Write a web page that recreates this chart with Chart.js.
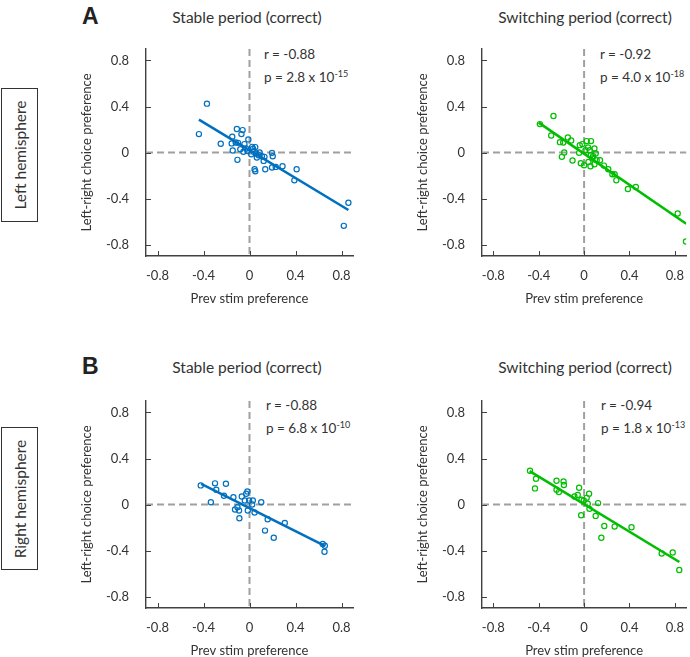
<!DOCTYPE html>
<html>
<head>
<meta charset="utf-8">
<script src="https://cdn.jsdelivr.net/npm/chart.js@4/dist/chart.umd.min.js"></script>
<style>
  html, body { margin:0; padding:0; background:#fff; overflow:hidden; }
  body { width:690px; height:657px; position:relative; font-family:Lato, "Open Sans", sans-serif; color:#333; }
  canvas { position:absolute; }
  .lbl { position:absolute; white-space:nowrap; }
  .big { font-family:"Liberation Sans", Arial, sans-serif; font-weight:bold; font-size:23px; color:#222; }
  .ttl { font-size:15.5px; transform:translateX(-50%); }
  .stat { font-size:13.5px; line-height:19px; }
  .stat span { font-size:9px; vertical-align:5px; }
  .hemi { position:absolute; border:1px solid #333; box-sizing:border-box; }
  .hemi div { position:absolute; left:50%; top:50%; font-size:15.5px; white-space:nowrap; transform:translate(-50%,-50%) rotate(-90deg); }
</style>
</head>
<body>
<div class="lbl big" style="left:82px;top:3px">A</div>
<div class="lbl big" style="left:82px;top:353px">B</div>
<div class="lbl ttl" style="left:247px;top:8px">Stable period (correct)</div>
<div class="lbl ttl" style="left:585px;top:8px">Switching period (correct)</div>
<div class="lbl ttl" style="left:247px;top:358px">Stable period (correct)</div>
<div class="lbl ttl" style="left:585px;top:358px">Switching period (correct)</div>
<div class="hemi" style="left:1px;top:88px;width:37px;height:134px"><div>Left hemisphere</div></div>
<div class="hemi" style="left:1px;top:427px;width:37px;height:143px"><div>Right hemisphere</div></div>

<div class="lbl stat" style="left:264px;top:45px">r = -0.88<br>p = 2.8 x 10<span>-15</span></div>
<div class="lbl stat" style="left:600px;top:45px">r = -0.92<br>p = 4.0 x 10<span>-18</span></div>
<div class="lbl stat" style="left:266px;top:396px">r = -0.88<br>p = 6.8 x 10<span>-10</span></div>
<div class="lbl stat" style="left:601px;top:396px">r = -0.94<br>p = 1.8 x 10<span>-13</span></div>

<canvas id="c1" width="300" height="280" style="left:60px;top:30px"></canvas>
<canvas id="c2" width="294" height="280" style="left:396px;top:30px"></canvas>
<canvas id="c3" width="300" height="280" style="left:60px;top:382px"></canvas>
<canvas id="c4" width="294" height="280" style="left:396px;top:382px"></canvas>

<script>
const tickVals = [-0.8, -0.4, 0, 0.4, 0.8];

// A: left hemisphere
const stableLeftX = [-0.37,-0.44,-0.25,-0.11,-0.06,-0.07,-0.15,-0.155,-0.12,-0.10,-0.146,-0.105,-0.08,-0.044,-0.01,-0.053,-0.03,-0.018,0.015,0.03,0.05,0.035,0.058,0.064,0.088,0.108,0.13,0.123,0.044,0.05,0.137,0.196,0.202,0.196,0.228,0.287,0.41,0.39,0.86,0.82,0.023,0.08];
const stableLeftY = [0.425,0.16,0.076,0.204,0.195,0.16,0.137,0.079,0.087,0.084,0.017,-0.064,0.029,0.073,0.114,0.006,0.035,0.012,-0.015,0.032,0.047,0.006,-0.009,-0.044,0,-0.032,-0.038,-0.073,-0.146,-0.163,-0.146,-0.003,-0.032,-0.131,-0.125,-0.119,-0.146,-0.242,-0.437,-0.638,0.049,-0.023];
const stableLeftFitX = [-0.44, 0.86];
const stableLeftFitY = [0.285, -0.50];

const switchLeftX = [-0.39,-0.27,-0.29,-0.213,-0.184,-0.143,-0.114,-0.175,-0.196,-0.102,-0.038,-0.015,-0.044,-0.029,0,0.023,0.061,0.035,0.05,0.091,0.058,0.079,0.102,0.038,0.056,0.091,0.111,0.14,0.175,0.213,0.249,0.269,0.284,0.386,0.456,0.825,0.898,0.012,0.073];
const switchLeftY = [0.247,0.317,0.148,0.09,0.087,0.131,0.105,0,-0.038,-0.07,0.064,0.073,-0.003,-0.093,-0.111,0.099,0.099,0.044,0.02,0.035,-0.023,-0.032,-0.009,-0.082,-0.119,-0.102,-0.067,-0.067,-0.114,-0.146,-0.189,-0.189,-0.242,-0.317,-0.30,-0.53,-0.774,0.02,-0.052];
const switchLeftFitX = [-0.40, 0.90];
const switchLeftFitY = [0.26, -0.62];

// B: right hemisphere
const stableRightX = [-0.424,-0.30,-0.205,-0.289,-0.222,-0.336,-0.14,-0.067,-0.029,-0.018,-0.041,-0.003,0.029,0.023,0.102,-0.126,-0.105,-0.091,-0.088,-0.015,0.044,0.158,0.135,0.211,0.307,0.637,0.655,0.652];
const stableRightY = [0.166,0.184,0.181,0.128,0.076,0.02,0.064,0.07,0.093,0.114,0.035,0.035,0.035,0,0.02,-0.044,-0.023,-0.052,-0.12,-0.052,-0.07,-0.128,-0.227,-0.289,-0.16,-0.344,-0.359,-0.411];
const stableRightFitX = [-0.42, 0.655];
const stableRightFitY = [0.18, -0.36];

const switchRightX = [-0.477,-0.424,-0.433,-0.243,-0.181,-0.178,-0.243,-0.222,-0.044,-0.085,-0.056,-0.023,-0.003,0.023,0.044,0.032,0.047,0.123,-0.026,0.102,0.178,0.152,0.269,0.418,0.684,0.781,0.839];
const switchRightY = [0.294,0.224,0.14,0.207,0.201,0.169,0.128,0.108,0.146,0.07,0.082,0.041,0.035,0.058,0.093,0.006,-0.038,0.012,-0.093,-0.099,-0.187,-0.289,-0.192,-0.198,-0.426,-0.417,-0.569];
const switchRightFitX = [-0.48, 0.84];
const switchRightFitY = [0.29, -0.50];

const BLUE = '#0070C0', GREEN = '#00BE00';
const AXIS = '#404040', TXT = '#333';
const FONT = { family: 'Lato, "Open Sans", sans-serif', size: 13 };

const pts = (xs, ys) => xs.map((x, i) => ({ x, y: ys[i] }));

// zero lines + inward tick marks
const deco = {
  id: 'deco',
  beforeDatasetsDraw(chart) {
    const { ctx, chartArea: a, scales: { x, y } } = chart;
    ctx.save();
    ctx.strokeStyle = '#a0a0a0';
    ctx.lineWidth = 2;
    ctx.setLineDash([7, 4]);
    const x0 = x.getPixelForValue(0), y0 = y.getPixelForValue(0);
    ctx.beginPath();
    ctx.moveTo(x0, a.top); ctx.lineTo(x0, a.bottom);
    ctx.moveTo(a.left, y0); ctx.lineTo(a.right, y0);
    ctx.stroke();
    ctx.setLineDash([]);
    ctx.strokeStyle = AXIS;
    ctx.lineWidth = 1;
    ctx.beginPath();
    tickVals.forEach(v => {
      const px = Math.round(x.getPixelForValue(v)) + 0.5;
      const py = Math.round(y.getPixelForValue(v)) + 0.5;
      ctx.moveTo(px, a.bottom); ctx.lineTo(px, a.bottom - 5);
      ctx.moveTo(a.left, py); ctx.lineTo(a.left + 5, py);
    });
    ctx.stroke();
    ctx.restore();
  }
};

function makePanel(id, xs, ys, fx, fy, color, padRight) {
  return new Chart(document.getElementById(id), {
    type: 'scatter',
    data: {
      datasets: [
        { data: pts(xs, ys), borderColor: color, backgroundColor: 'transparent',
          pointRadius: 2.6, borderWidth: 1.2, pointHoverRadius: 2.6 },
        { type: 'line', data: pts(fx, fy), borderColor: color, borderWidth: 2.6,
          pointRadius: 0, fill: false }
      ]
    },
    options: {
      responsive: false, animation: false, devicePixelRatio: 1,
      layout: { padding: { top: 19, right: padRight, left: 0, bottom: 0 } },
      plugins: { legend: { display: false }, tooltip: { enabled: false } },
      scales: {
        x: {
          type: 'linear', min: -0.9, max: 0.9,
          grid: { display: false, drawTicks: false },
          border: { display: true, color: AXIS, width: 1.4 },
          ticks: { padding: 12, color: TXT, font: FONT },
          afterBuildTicks: s => { s.ticks = tickVals.map(v => ({ value: v })); },
          afterFit: s => { s.height = 54; s.paddingLeft = 0; s.paddingRight = 0; },
          title: { display: true, text: 'Prev stim preference', color: TXT, font: FONT, padding: { top: 0, bottom: 3 } }
        },
        y: {
          type: 'linear', min: -0.9, max: 0.9,
          grid: { display: false, drawTicks: false },
          border: { display: true, color: AXIS, width: 1.4 },
          ticks: { padding: 17, color: TXT, font: FONT, callback: v => String(v) },
          afterBuildTicks: s => { s.ticks = tickVals.map(v => ({ value: v })); },
          afterFit: s => { s.width = 86; s.paddingTop = 0; s.paddingBottom = 0; },
          title: { display: true, text: 'Left-right choice preference', color: TXT, font: FONT, padding: { top: 19, bottom: 0 } }
        }
      }
    },
    plugins: [deco]
  });
}

makePanel('c1', stableLeftX, stableLeftY, stableLeftFitX, stableLeftFitY, BLUE, 7);
makePanel('c2', switchLeftX, switchLeftY, switchLeftFitX, switchLeftFitY, GREEN, 1);
makePanel('c3', stableRightX, stableRightY, stableRightFitX, stableRightFitY, BLUE, 7);
makePanel('c4', switchRightX, switchRightY, switchRightFitX, switchRightFitY, GREEN, 1);
</script>
</body>
</html>
